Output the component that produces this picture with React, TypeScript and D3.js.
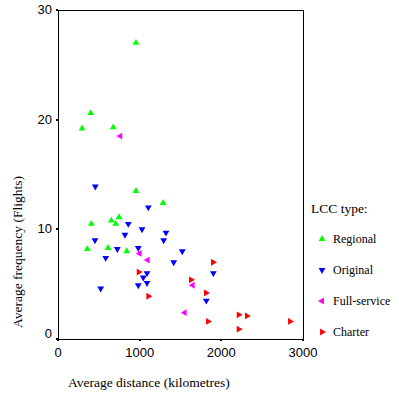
import React from 'react';
import * as d3 from 'd3';

// values: [distance km, frequency]
const regional = [
  [955, 27.0], [400, 20.6], [294, 19.2], [677, 19.3], [955, 13.5], [1286, 12.4],
  [408, 10.5], [653, 10.8], [747, 11.1], [706, 10.5], [359, 8.2], [612, 8.3], [841, 8.0],
];
const original = [
  [457, 13.9], [1106, 12.0], [861, 10.5], [1029, 10.0], [1322, 9.7], [820, 9.5],
  [453, 9.0], [1294, 9.0], [726, 8.2], [983, 8.3], [584, 7.4], [1522, 8.0],
  [1417, 7.0], [1090, 6.0], [1044, 5.6], [983, 4.9], [1090, 5.1], [523, 4.6],
  [1902, 6.0], [1816, 3.5],
];
const fullService = [
  [763, 18.5], [1000, 7.8], [1098, 7.2], [1649, 4.9], [1551, 2.4],
];
const charter = [
  [1898, 7.0], [988, 6.1], [1629, 5.4], [1812, 4.2], [1106, 3.9], [2213, 2.2],
  [2314, 2.1], [1837, 1.6], [2841, 1.6], [2213, 0.9],
];

const xTicks = [0, 1000, 2000, 3000];
const yTicks = [0, 10, 20, 30];

const groups = [
  { name: 'Regional', data: regional, color: '#00ff00', rot: 0 },
  { name: 'Original', data: original, color: '#0000ff', rot: 180 },
  { name: 'Full-service', data: fullService, color: '#ff00ff', rot: -90 },
  { name: 'Charter', data: charter, color: '#ff0000', rot: 90 },
];

const left = 58, right = 303, top = 10, bottom = 339;

export default function App() {
  const x = d3.scaleLinear().domain([0, 3000]).range([left, right]);
  const y = d3.scaleLinear().domain([0, 30]).range([bottom, top]);
  const tri = d3.symbol().type(d3.symbolTriangle).size(20)();
  const sans = "'Liberation Sans', Arial, sans-serif";
  const serif = "'Liberation Serif', 'Times New Roman', serif";

  return (
    <svg width={399} height={399} style={{ position: 'absolute', left: 0, top: 0, background: '#fff' }}>
      <rect x={left} y={top} width={right - left} height={bottom - top} fill="none" stroke="#000" strokeWidth={1} shapeRendering="crispEdges" />
      {xTicks.map(t => (
        <g key={'x' + t}>
          <line x1={x(t)} x2={x(t)} y1={bottom} y2={bottom + 2} stroke="#000" strokeWidth={2} shapeRendering="crispEdges" />
          <text x={x(t)} y={357} textAnchor="middle" fontFamily={sans} fontSize={13}>{t}</text>
        </g>
      ))}
      {yTicks.map(t => (
        <g key={'y' + t}>
          <line x1={left - 2} x2={left} y1={y(t)} y2={y(t)} stroke="#000" strokeWidth={2} shapeRendering="crispEdges" />
          <text x={52} y={y(t) + (t === 0 ? -1 : 4)} textAnchor="end" fontFamily={sans} fontSize={13}>{t}</text>
        </g>
      ))}
      {groups.map(g => g.data.map((d, i) => (
        <path key={g.name + i} d={tri!} fill={g.color}
          transform={`translate(${x(d[0])},${y(d[1])}) rotate(${g.rot})`} />
      )))}
      <text x={68} y={387} fontFamily={serif} fontSize={13.5}>Average distance (kilometres)</text>
      <text transform="translate(22,252) rotate(-90)" textAnchor="middle" fontFamily={serif} fontSize={13.5}>Average frequency (Flights)</text>
      <text x={311} y={213} fontFamily={serif} fontSize={13.5}>LCC type:</text>
      {groups.map((g, i) => (
        <g key={'lg' + g.name} transform={`translate(0,${239 + i * 31})`}>
          <path d={tri!} fill={g.color} transform={`translate(322,0) rotate(${g.rot})`} />
          <text x={333} y={4} fontFamily={serif} fontSize={12}>{g.name}</text>
        </g>
      ))}
    </svg>
  );
}
